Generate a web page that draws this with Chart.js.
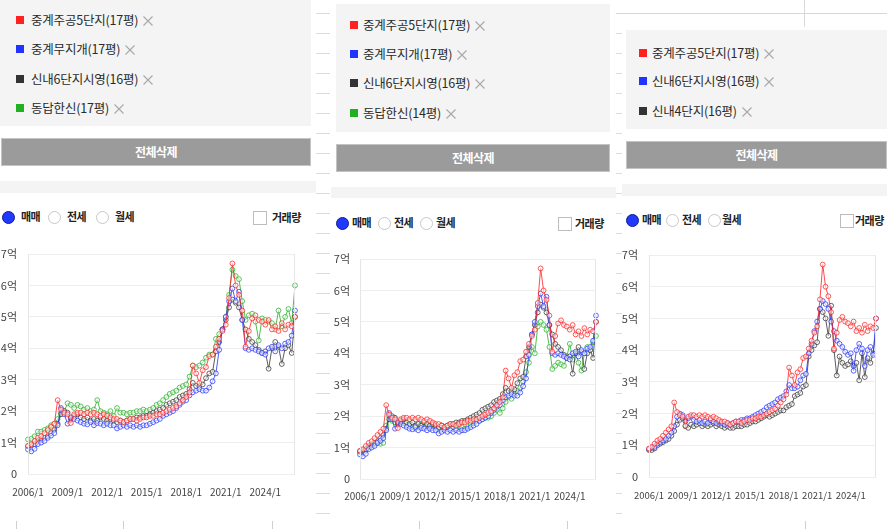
<!DOCTYPE html>
<html><head><meta charset="utf-8">
<script src="https://cdn.jsdelivr.net/npm/chart.js@4"></script>
<style>
html,body{margin:0;padding:0}
body{width:887px;height:529px;overflow:hidden;background:#fff;position:relative;font-family:"Noto Sans CJK KR","Noto Sans",sans-serif}
.gray{position:absolute;background:#f4f4f4}
.item{position:absolute;font-size:12.5px;color:#2a2a2a;height:16px;line-height:16px;white-space:nowrap;letter-spacing:-0.2px}
.sq{position:absolute;width:8px;height:8px}
.btn{position:absolute;background:#9b9b9b;border:1px solid #c4c4c4;box-sizing:border-box;color:#fff;font-weight:bold;font-size:12px;text-align:center;letter-spacing:-0.5px}
.rad{position:absolute;width:13px;height:13px;border-radius:50%;box-sizing:border-box;border:1px solid #c8c8c8;background:#fff}
.rad.on{background:#2138ff;border:1.5px solid #10208a}
.rl{position:absolute;font-size:11px;font-weight:bold;color:#222;letter-spacing:-0.5px;line-height:14px;white-space:nowrap}
.chk{position:absolute;width:14px;height:14px;box-sizing:border-box;border:1px solid #bdbdbd;background:#fff}
.ln{position:absolute;background:#d8d8d8}
canvas{position:absolute}
</style>
</head><body>
<script>
// ---- data (values in 억원), quarterly samples ----
const QUARTERS = [];
for (let y = 2006; y <= 2026; y++) for (const m of [1,4,7,10]) if (QUARTERS.length < 82) QUARTERS.push(y + '/' + m);
const TICK_LABELS = ['2006/1','2009/1','2012/1','2015/1','2018/1','2021/1','2024/1'];

const JUNGGYE5 = [ // 중계주공5단지(17평)
0.90,0.95,1.05,1.15, 1.20,1.30,1.40,1.50, 1.60,2.35,2.05,1.95, 1.90,1.62,1.90,1.95,
1.95,1.90,1.95,1.90, 1.95,1.90,1.85,1.90, 1.85,1.80,1.75,1.75, 1.70,1.65,1.70,1.75,
1.75,1.70,1.75,1.80, 1.80,1.85,1.85,1.90, 1.90,1.95,2.00,2.05, 2.10,2.15,2.25,2.35,
2.45,2.60,3.45,3.20, 2.90,3.30,3.40,3.75, 3.80,4.05,4.30,4.55, 4.75,5.60,6.70,6.00,
5.70,5.20,4.05,4.55, 4.95,5.05,4.90,4.85, 4.75,4.90,4.60,4.70, 4.55,4.80,4.60,4.75,
4.70,5.00];
const MUJIGAE = [ // 중계무지개(17평)
0.78,0.72,0.80,0.95, 1.00,1.05,1.15,1.22, 1.30,1.55,2.10,1.90, 1.60,1.80,1.75,1.70,
1.65,1.60,1.58,1.65, 1.55,1.62,1.60,1.55, 1.60,1.55,1.55,1.45, 1.50,1.55,1.50,1.55,
1.50,1.55,1.50,1.55, 1.55,1.60,1.65,1.70, 1.75,1.85,1.90,1.95, 2.00,2.10,2.20,2.30,
2.35,2.50,2.60,2.65, 2.70,2.65,2.65,2.75, 2.95,3.20,3.95,4.60, 5.00,5.50,5.90,5.50,
5.80,4.90,4.00,3.95, 4.00,3.95,3.90,3.85, 3.80,4.00,4.05,3.90, 4.10,4.00,4.15,4.20,
4.40,5.20];
const SINNAE6 = [ // 신내6단지시영(16평)
0.88,0.92,0.95,1.05, 1.10,1.15,1.20,1.30, 1.40,1.60,1.90,2.00, 1.95,1.75,1.85,1.90,
1.80,1.75,1.80,1.70, 1.75,1.70,1.80,1.75, 1.70,1.75,1.70,1.65, 1.70,1.65,1.70,1.75,
1.75,1.80,1.80,1.85, 1.85,1.90,1.95,2.00, 2.05,2.10,2.20,2.25, 2.30,2.35,2.45,2.50,
2.55,2.70,2.90,2.80, 2.80,2.85,3.05,3.20, 3.25,3.90,4.20,4.60, 4.90,5.30,5.55,5.45,
5.30,4.90,4.60,4.30, 4.20,4.10,3.95,3.85, 3.90,3.35,4.00,4.20, 4.05,3.50,4.00,4.10,
3.85,5.00];
const DONGDAP17 = [ // 동답한신(17평)
1.10,1.12,1.20,1.35, 1.35,1.40,1.45,1.55, 1.60,1.75,1.95,2.00, 2.25,2.20,2.10,2.20,
2.15,2.05,2.10,2.00, 2.05,2.35,2.00,1.95, 1.90,2.00,1.85,2.10, 1.95,1.95,1.90,1.95,
1.95,2.00,2.00,2.05, 2.00,2.05,2.10,2.20, 2.25,2.35,2.45,2.55, 2.60,2.65,2.75,2.80,
2.85,3.10,3.45,3.40, 3.45,3.55,3.70,3.80, 3.80,4.30,4.45,4.60, 5.00,5.70,6.50,6.30,
6.20,5.50,4.90,5.05, 5.10,4.85,4.25,4.95, 4.90,4.85,4.80,4.60, 5.20,4.70,5.00,5.25,
4.80,6.00];
const DONGDAP14 = [ // 동답한신(14평)
0.85,0.88,0.92,1.00, 1.05,1.10,1.15,1.12, 1.15,1.70,2.00,1.85, 1.80,1.75,1.85,1.80,
1.70,1.85,1.65,1.60, 1.75,1.70,1.65,1.75, 1.70,1.75,1.65,1.60, 1.70,1.60,1.65,1.70,
1.65,1.60,1.70,1.65, 1.60,1.65,1.75,1.80, 1.85,1.85,1.90,1.95, 1.95,2.00,2.10,2.20,
2.10,2.25,2.45,2.60, 2.55,2.70,2.80,2.90, 3.10,3.40,3.70,4.20, 4.00,4.85,5.00,4.90,
4.75,4.20,3.50,3.60, 3.70,3.65,3.60,3.90, 4.30,3.80,4.00,3.70, 3.45,4.00,4.20,4.10,
4.35,4.55];
const SINNAE4 = [ // 신내4단지(16평)
0.85,0.85,0.90,1.00, 1.05,1.10,1.15,1.20, 1.30,1.45,1.65,1.80, 1.85,1.60,1.55,1.65,
1.60,1.65,1.70,1.60, 1.65,1.60,1.65,1.70, 1.60,1.65,1.60,1.55, 1.60,1.55,1.55,1.60,
1.60,1.60,1.65,1.65, 1.70,1.75,1.75,1.80, 1.85,1.90,1.95,1.90, 1.95,2.00,2.05,2.10,
2.10,2.20,2.25,2.30, 2.55,2.60,2.65,2.85, 2.90,3.80,4.00,4.15, 4.25,5.30,5.20,5.00,
4.45,5.40,4.00,3.20, 3.80,3.60,3.50,3.55, 3.65,3.50,3.60,3.05, 3.90,3.15,3.75,3.60,
3.90,4.70];

const RED='#ff2020', BLUE='#2233ff', BLACK='#333333', GREEN='#22b022';
const NAMES1 = ['중계주공5단지(17평)','중계무지개(17평)','신내6단지시영(16평)','동답한신(17평)'];
const NAMES2 = ['중계주공5단지(17평)','중계무지개(17평)','신내6단지시영(16평)','동답한신(14평)'];
const NAMES3 = ['중계주공5단지(17평)','신내6단지시영(16평)','신내4단지(16평)'];

const PANELS = [
 {names:NAMES1, colors:[RED,BLUE,BLACK,GREEN], series:[JUNGGYE5,MUJIGAE,SINNAE6,DONGDAP17],
  box:[0,0,311,126], rows:[20,49,79,108], sqx:16, tx:31,
  btn:[1,138,310,28], strip:[0,181,316,12], ry:217, radios:[[2,21],[48,67],[96,115]], chk:[253,272],
  chart:{l:0,t:244,w:300,h:268,yw:28,ypad:11,padR:2,padT:10,xh:38,xpad:4,xf:10}},
 {names:NAMES2, colors:[RED,BLUE,BLACK,GREEN], series:[JUNGGYE5,MUJIGAE,SINNAE6,DONGDAP14],
  box:[336,4,274,128], rows:[25,54,83,113], sqx:350, tx:363,
  btn:[336,144,274,28], strip:[331,187,285,11], ry:223, radios:[[336,352],[378,394],[420,436]], chk:[558,575],
  chart:{l:313,t:249,w:290,h:268,yw:47,ypad:10,padR:7,padT:10,xh:38,xpad:3,xf:10}},
 {names:NAMES3, colors:[RED,BLUE,BLACK], series:[JUNGGYE5,SINNAE6,SINNAE4],
  box:[626,30,261,99], rows:[53,81,111], sqx:639, tx:652,
  btn:[626,141,261,28], strip:[622,184,265,12], ry:220, radios:[[626,642],[666,682],[708,722]], chk:[840,855],
  chart:{l:616,t:245,w:271,h:272,yw:33,ypad:11,padR:11,padT:10,xh:40,xpad:5,xf:9.5}}
];

function el(cls, css, html){const d=document.createElement('div');d.className=cls;Object.assign(d.style,css);if(html!==undefined)d.innerHTML=html;document.body.appendChild(d);return d;}
const px=v=>v+'px';
const XSVG='<svg width="10" height="10" style="margin-left:5px;vertical-align:-1px"><path d="M0.5 0.5L9.5 9.5M9.5 0.5L0.5 9.5" stroke="#a8a8a8" stroke-width="1.1"/></svg>';

// decorative separators from the screenshots
for(let y=13;y<=513;y+=20) el('ln',{left:'316px',top:px(y),width:'14px',height:'1px',background:'#dcdcdc'});
for(let y=33;y<=513;y+=20) el('ln',{left:'616px',top:px(y),width:'6px',height:'1px',background:'#dcdcdc'});
el('ln',{left:'616px',top:'13px',width:'271px',height:'1px'});
el('ln',{left:'804px',top:'0px',width:'1px',height:'27px'});
[16,123,272,419,567,805].forEach(x=>el('ln',{left:px(x),top:'521px',width:'1px',height:'8px',background:'#cfcfcf'}));

const F='"Noto Sans CJK KR","Noto Sans",sans-serif';
const frame={id:'frame',afterDraw(c){const a=c.chartArea,ctx=c.ctx;ctx.save();ctx.strokeStyle='#e6e6e6';ctx.lineWidth=1;ctx.beginPath();ctx.moveTo(Math.round(a.left)+0.5,a.top);ctx.lineTo(Math.round(a.left)+0.5,a.bottom);ctx.moveTo(Math.round(a.right)-0.5,a.top);ctx.lineTo(Math.round(a.right)-0.5,a.bottom);ctx.stroke();ctx.restore();}};

PANELS.forEach(p=>{
  el('gray',{left:px(p.box[0]),top:px(p.box[1]),width:px(p.box[2]),height:px(p.box[3])});
  p.names.forEach((n,i)=>{
    el('sq',{left:px(p.sqx),top:px(p.rows[i]-4),background:p.colors[i]});
    el('item',{left:px(p.tx),top:px(p.rows[i]-8)},n+XSVG);
  });
  el('btn',{left:px(p.btn[0]),top:px(p.btn[1]),width:px(p.btn[2]),height:px(p.btn[3]),lineHeight:px(p.btn[3]-2)},'전체삭제');
  el('gray',{left:px(p.strip[0]),top:px(p.strip[1]),width:px(p.strip[2]),height:px(p.strip[3])});
  ['매매','전세','월세'].forEach((t,i)=>{
    el('rad'+(i===0?' on':''),{left:px(p.radios[i][0]),top:px(p.ry-6.5)});
    el('rl',{left:px(p.radios[i][1]),top:px(p.ry-8)},t);
  });
  el('chk',{left:px(p.chk[0]),top:px(p.ry-6)});
  el('rl',{left:px(p.chk[1]),top:px(p.ry-7)},'거래량');

  const g=p.chart;
  const cv=document.createElement('canvas');cv.width=g.w;cv.height=g.h;
  Object.assign(cv.style,{left:px(g.l),top:px(g.t),width:px(g.w),height:px(g.h)});
  document.body.appendChild(cv);
  new Chart(cv.getContext('2d'),{
    type:'line',
    data:{labels:QUARTERS,datasets:p.series.map((d,i)=>({
      label:p.names[i],data:d,borderColor:p.colors[i]+'cc',pointBorderColor:p.colors[i]+'bb',
      pointBackgroundColor:'rgba(255,255,255,0.55)',borderWidth:1,pointRadius:2.4,pointBorderWidth:1,tension:0}))},
    options:{responsive:false,animation:false,
      layout:{padding:{top:g.padT,right:g.padR,left:0,bottom:0}},
      plugins:{legend:{display:false},tooltip:{enabled:false}},
      scales:{
        x:{grid:{display:false},border:{display:false},
           ticks:{autoSkip:false,maxRotation:0,minRotation:0,padding:g.xpad,color:'#444',font:{size:g.xf,family:F},
             callback:(v,i)=>TICK_LABELS.includes(QUARTERS[i])?QUARTERS[i]:''},
           afterFit:s=>{s.height=g.xh;}},
        y:{min:0,max:7,grid:{color:'#eeeeee',drawTicks:false},border:{display:false},
           ticks:{stepSize:1,padding:g.ypad,color:'#444',font:{size:11,family:F},callback:v=>v===0?'0':v+'억'},
           afterFit:s=>{s.width=g.yw;s.paddingTop=0;s.paddingBottom=0;}}
      }},
    plugins:[frame]
  });
});
</script>
</body></html>
